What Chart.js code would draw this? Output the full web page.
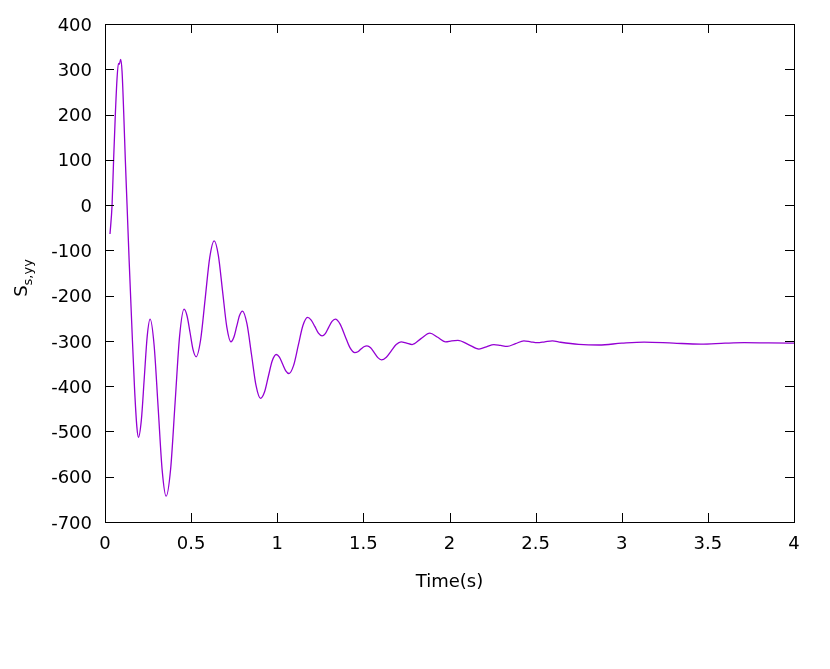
<!DOCTYPE html>
<html lang="en">
<head>
<meta charset="UTF-8" />
<title>Ss,yy vs Time</title>
<script src="https://cdn.jsdelivr.net/npm/chart.js"></script>
<style>
    body { margin: 0; background: #fff; }
    #wrap { width: 830px; height: 669px; }
</style>
</head>
<body>
<div id="wrap"><canvas id="chart" width="830" height="669"></canvas></div>
<script>
    // values (time in s, stress)
    const times = [0.029, 0.041, 0.05, 0.06, 0.07, 0.078, 0.083, 0.091, 0.099, 0.109, 0.118, 0.128, 0.14,
        0.155, 0.171, 0.185, 0.194, 0.211, 0.228, 0.245, 0.262, 0.285, 0.3085, 0.332, 0.355,
        0.381, 0.407, 0.433, 0.459, 0.4765, 0.494, 0.5115, 0.529, 0.555, 0.5815, 0.608, 0.634,
        0.658, 0.6825, 0.707, 0.731, 0.748, 0.7645, 0.781, 0.798, 0.824, 0.8505, 0.877, 0.903,
        0.926, 0.9485, 0.971, 0.994, 1.0125, 1.031, 1.0495, 1.068, 1.095, 1.122, 1.149, 1.176,
        1.197, 1.218, 1.239, 1.26, 1.279, 1.2985, 1.318, 1.337, 1.365, 1.3935, 1.422, 1.45,
        1.468, 1.4855, 1.503, 1.521, 1.542, 1.563, 1.584, 1.605, 1.6335, 1.662, 1.6905, 1.719,
        1.751, 1.783, 1.8345, 1.886, 1.9315, 1.977, 2.013, 2.049, 2.11, 2.171, 2.2145, 2.258,
        2.2965, 2.335, 2.3835, 2.432, 2.471, 2.51, 2.5535, 2.597, 2.645, 2.75, 2.868, 3.0, 3.13,
        3.3, 3.459, 3.6, 3.71, 3.85, 4.0];
    const stress = [-64, 0, 100, 200, 280, 313, 311, 322, 295, 200, 100, 0, -121,
        -260, -401, -490, -513, -475, -382, -290, -252, -309, -447, -586, -643,
        -583, -436, -290, -230, -245, -282, -320, -335, -298, -207, -116, -79,
        -111, -190, -269, -302, -292, -268, -244, -234, -262, -330, -399, -427,
        -413, -378, -344, -330, -336, -351, -366, -372, -354, -310, -266, -248,
        -254, -268, -283, -289, -284, -270, -257, -252, -263, -289, -315, -326,
        -324, -318, -313, -311, -315, -326, -337, -342, -336, -322, -308, -302,
        -305, -308, -295, -283, -292, -302, -300, -299, -308, -318, -313, -308,
        -310, -312, -306, -300, -302, -304, -302, -300, -303, -307.5, -309, -305, -302.5,
        -305, -307, -305, -304, -304.5, -305];
    const xTicks = [0, 0.5, 1, 1.5, 2, 2.5, 3, 3.5, 4];
    const yTicks = [-700, -600, -500, -400, -300, -200, -100, 0, 100, 200, 300, 400];

    const FONT = 'DejaVu Sans, sans-serif';

    // gnuplot style frame: box border, inward ticks on all four sides, axis titles
    const framePlugin = {
        id: 'frame',
        afterDraw(chart) {
            const ctx = chart.ctx;
            const a = chart.chartArea;
            const xs = chart.scales.x, ys = chart.scales.y;
            const tl = 9;
            ctx.save();
            ctx.strokeStyle = '#000';
            ctx.lineWidth = 1;
            ctx.beginPath();
            xTicks.forEach(v => {
                const px = Math.round(xs.getPixelForValue(v)) + 0.5;
                ctx.moveTo(px, a.bottom); ctx.lineTo(px, a.bottom - tl);
                ctx.moveTo(px, a.top); ctx.lineTo(px, a.top + tl);
            });
            yTicks.forEach(v => {
                const py = Math.round(ys.getPixelForValue(v)) + 0.5;
                ctx.moveTo(a.left, py); ctx.lineTo(a.left + tl, py);
                ctx.moveTo(a.right, py); ctx.lineTo(a.right - tl, py);
            });
            ctx.stroke();
            ctx.strokeRect(Math.round(a.left) + 0.5, Math.round(a.top) + 0.5,
                Math.round(a.right - a.left), Math.round(a.bottom - a.top));

            ctx.fillStyle = '#000';
            ctx.font = '18px ' + FONT;
            ctx.textAlign = 'center';
            ctx.textBaseline = 'alphabetic';
            ctx.fillText('Time(s)', (a.left + a.right) / 2, 587);

            // y title with subscript
            ctx.translate(27, 278);
            ctx.rotate(-Math.PI / 2);
            ctx.textAlign = 'left';
            const main = 'S', sub = 's,yy';
            ctx.font = '18px ' + FONT;
            const wMain = ctx.measureText(main).width;
            ctx.font = '13px ' + FONT;
            const wSub = ctx.measureText(sub).width;
            const x0 = -(wMain + wSub) / 2;
            ctx.font = '18px ' + FONT;
            ctx.fillText(main, x0, 0);
            ctx.font = '13px ' + FONT;
            ctx.fillText(sub, x0 + wMain, 5);
            ctx.restore();
        }
    };

    new Chart(document.getElementById('chart'), {
        type: 'line',
        data: {
            datasets: [{
                data: times.map((t, i) => ({ x: t, y: stress[i] })),
                borderColor: '#9400d3',
                borderWidth: 1.3,
                pointRadius: 0,
                fill: false,
                cubicInterpolationMode: 'monotone'
            }]
        },
        options: {
            responsive: false,
            animation: false,
            layout: { padding: { left: 0, right: 36, top: 24, bottom: 0 } },
            plugins: { legend: { display: false }, tooltip: { enabled: false } },
            scales: {
                x: {
                    type: 'linear',
                    min: 0, max: 4,
                    afterBuildTicks: s => { s.ticks = xTicks.map(v => ({ value: v })); },
                    afterFit: s => { s.height = 147; },
                    grid: { display: false, drawTicks: false },
                    border: { display: false },
                    ticks: { color: '#000', font: { family: FONT, size: 18 }, padding: 12, maxRotation: 0,
                        callback: v => String(v) }
                },
                y: {
                    type: 'linear',
                    min: -700, max: 400,
                    afterBuildTicks: s => { s.ticks = yTicks.map(v => ({ value: v })); },
                    afterFit: s => { s.width = 105; },
                    grid: { display: false, drawTicks: false },
                    border: { display: false },
                    ticks: { color: '#000', font: { family: FONT, size: 18 }, padding: 13, labelOffset: 2,
                        callback: v => String(v) }
                }
            }
        },
        plugins: [framePlugin]
    });
</script>
</body>
</html>
